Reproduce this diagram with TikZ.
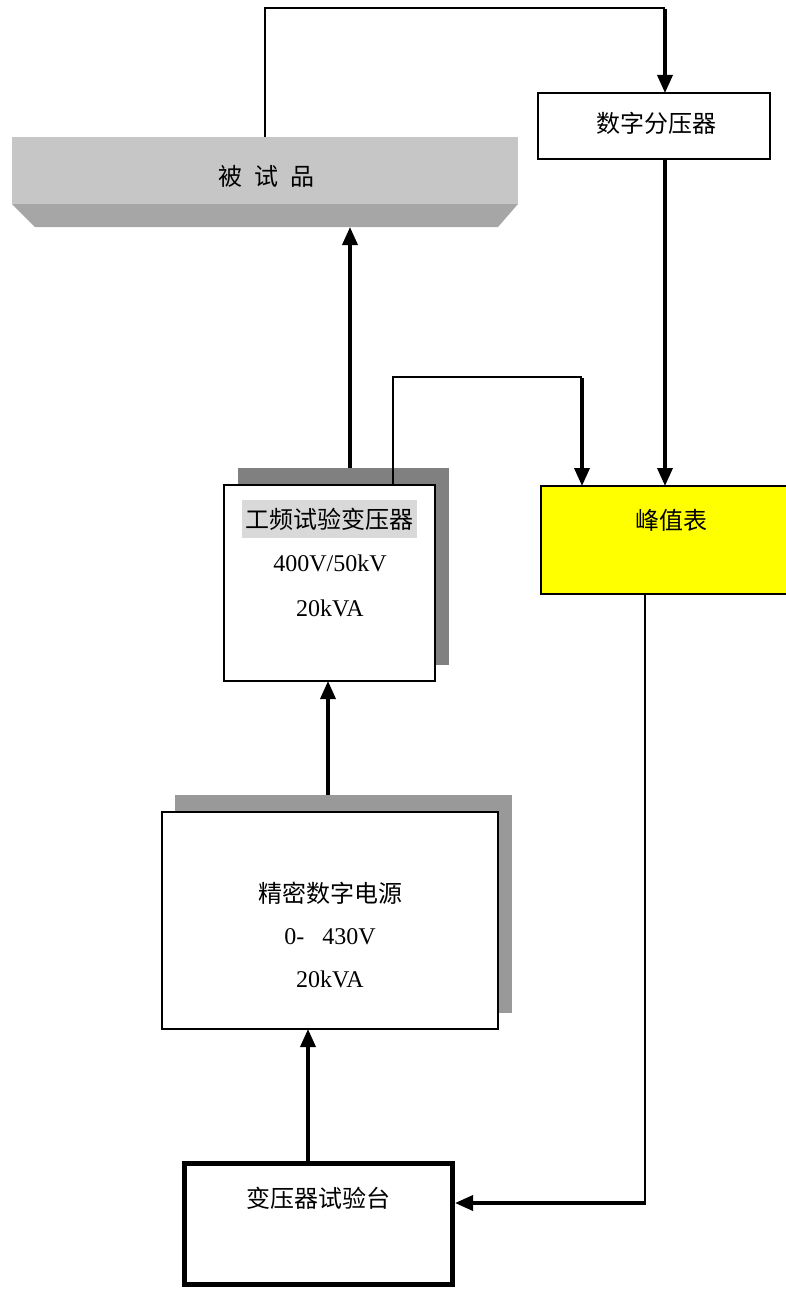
\documentclass[tikz,border=0pt]{standalone}
\usepackage{fontspec}
\setmainfont{Liberation Serif}
\newfontfamily\zhfont{Noto Sans CJK SC}
\usetikzlibrary{arrows.meta}
\definecolor{facegray}{HTML}{C6C6C6}
\definecolor{bevelgray}{HTML}{A6A6A6}
\definecolor{shadowdark}{HTML}{808080}
\definecolor{shadowmid}{HTML}{999999}
\definecolor{hlgray}{HTML}{D9D9D9}
\definecolor{peakyellow}{HTML}{FFFF00}
\tikzset{
  box/.style={draw=black, line width=1.5pt, fill=white, inner sep=0pt, outer sep=0pt},
  shade box/.style={draw=none, inner sep=0pt, outer sep=0pt},
  zh/.style={inner sep=0pt, font=\zhfont\fontsize{24}{28}\selectfont},
  lbl/.style={inner sep=0pt, font=\fontsize{24}{28}\selectfont},
  wire/.style={line width=1.3pt},
  feed/.style={line width=3.5pt, -{Triangle[length=18pt,width=15pt]}},
}
\begin{document}
\begin{tikzpicture}[x=1pt,y=-1pt]
\useasboundingbox (0,0) rectangle (786,1290);

% device under test
\node[shade box, fill=facegray, minimum width=506, minimum height=67] (dut) at (265,170.5) {};
\fill[bevelgray] (dut.south west) -- (dut.south east) -- ++(-20,23) -- ++(-463,0) -- cycle;
\node[zh] (dutlbl) at (266,176) {被\hspace{12pt}试\hspace{12pt}品};
\coordinate (dutbev) at (350,227);

% digital divider
\node[box, line width=1.8pt, minimum width=232, minimum height=66] (div) at (654,126) {};
\node[zh] (divlbl) at (656,123) {数字分压器};

% peak meter
\node[shade box, fill=peakyellow, minimum width=245, minimum height=108] (pk) at (663.5,540) {};
\draw[line width=1.5pt] (pk.north east) -- (pk.north west) -- (pk.south west) -- (pk.south east);
\node[zh] (pklbl) at (671,520) {峰值表};

% power-frequency test transformer
\node[shade box, fill=shadowdark, minimum width=211, minimum height=197] (trsh) at (343.5,566.5) {};
\node[box, minimum width=211, minimum height=196] (tr) at (329.5,583) {};
\node[zh, fill=hlgray, minimum width=175, minimum height=38] (tr1) at (329.5,519) {工频试验变压器};
\node[lbl] (tr2) at (330,563) {400V/50kV};
\node[lbl] (tr3) at (330,608) {20kVA};

% precision digital power source
\node[shade box, fill=shadowmid, minimum width=337, minimum height=218] (pssh) at (343.5,904) {};
\node[box, minimum width=336, minimum height=217] (ps) at (330,920.5) {};
\node[zh] (ps1) at (330,893) {精密数字电源};
\node[lbl] (ps2) at (330,937) {0-\hspace{18pt}430V};
\node[lbl] (ps3) at (330,979) {20kVA};

% transformer test bench
\node[box, line width=5pt, outer sep=2.5pt, minimum width=268, minimum height=121] (bench) at (318.5,1224) {};
\node[zh] (benchlbl) at (318,1198) {变压器试验台};

% connectors
\coordinate (c1) at (265,8);
\coordinate (c2) at (665,8);
\draw[wire] (dut.north -| c1) -- (c1) -- (c2);
\draw[feed] ([yshift=-0.65pt]c2) -- (div.north -| c2);
\draw[feed] (div.south -| c2) -- (pk.north -| c2);

\coordinate (c3) at (393,377);
\coordinate (c4) at (582,377);
\draw[wire] (tr.north -| c3) -- (c3) -- (c4);
\draw[feed] ([yshift=-0.65pt]c4) -- (pk.north -| c4);

\coordinate (c5) at (645,1203);
\draw[wire] (pk.south -| c5) -- ([yshift=1.75pt]c5);
\draw[feed] ([xshift=0.65pt]c5) -- (bench.east |- c5);

\draw[feed] (trsh.north -| dutbev) -- (dutbev);
\coordinate (x328) at (328,0);
\draw[feed] (pssh.north -| x328) -- (tr.south -| x328);
\coordinate (x308) at (308,0);
\draw[feed] (bench.north -| x308) -- (ps.south -| x308);
\end{tikzpicture}
\end{document}
